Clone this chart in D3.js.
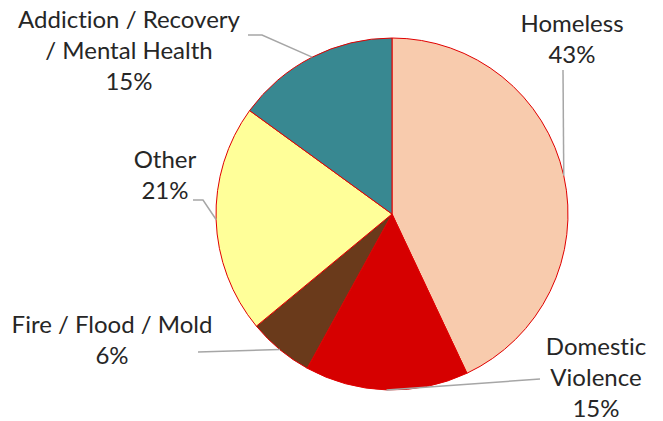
<!DOCTYPE html>
<html>
<head>
<meta charset="utf-8">
<script src="https://cdn.jsdelivr.net/npm/d3@7"></script>
<style>
  body { margin: 0; background: #fff; }
  text { font-family: Lato, "Open Sans", sans-serif; fill: #262626; font-variant-ligatures: none; }
</style>
</head>
<body>
<div id="chart"></div>
<script>
// data
const categories = ["Homeless", "Domestic Violence", "Fire / Flood / Mold", "Other", "Addiction / Recovery / Mental Health"];
const values = [43, 15, 6, 21, 15];
const colors = ["#F8CBAD", "#D60000", "#6A3A1B", "#FFFF99", "#388891"];
const labelLines = [
    ["Homeless", "43%"],
    ["Domestic", "Violence", "15%"],
    ["Fire / Flood / Mold", "6%"],
    ["Other", "21%"],
    ["Addiction / Recovery", "/ Mental Health", "15%"]
];

// label placement (x centre, first baseline) and leader elbow
const labelPos = [
    {x: 572, y: 32, line: [[563, 70]]},
    {x: 596, y: 355, line: [[540, 379]]},
    {x: 112, y: 333, line: [[198, 352]]},
    {x: 165, y: 168, line: [[203, 200], [193, 200]]},
    {x: 129, y: 28, line: [[262, 35], [248, 35]]}
];

const width = 663, height = 421;
const cx = 392, cy = 214, radius = 176;
const lineHeight = 31;

const svg = d3.select("#chart")
    .append("svg")
    .attr("width", width)
    .attr("height", height);

const pie = d3.pie().sort(null).value(d => d);
const arcs = pie(values);

const arc = d3.arc().innerRadius(0).outerRadius(radius);

const g = svg.append("g")
    .attr("transform", "translate(" + cx + "," + cy + ")");

g.selectAll("path.slice")
    .data(arcs)
    .enter()
    .append("path")
    .attr("class", "slice")
    .attr("d", arc)
    .attr("fill", (d, i) => colors[i])
    .attr("stroke", "#E00000")
    .attr("stroke-width", 1);

// leader lines start on the rim at the middle angle
svg.selectAll("path.leader")
    .data(arcs)
    .enter()
    .append("path")
    .attr("class", "leader")
    .attr("fill", "none")
    .attr("stroke", "#A6A6A6")
    .attr("stroke-width", 1.5)
    .attr("d", (d, i) => {
        const a = (d.startAngle + d.endAngle) / 2;
        const p0 = [cx + radius * Math.sin(a), cy - radius * Math.cos(a)];
        return d3.line()([p0].concat(labelPos[i].line));
    });

// labels
const labels = svg.selectAll("text.label")
    .data(labelLines)
    .enter()
    .append("text")
    .attr("class", "label")
    .attr("text-anchor", "middle")
    .attr("font-size", 24);

labels.each(function(lines, i) {
    d3.select(this).selectAll("tspan")
        .data(lines)
        .enter()
        .append("tspan")
        .attr("x", labelPos[i].x)
        .attr("y", (l, j) => labelPos[i].y + j * lineHeight)
        .text(l => l);
});
</script>
</body>
</html>
